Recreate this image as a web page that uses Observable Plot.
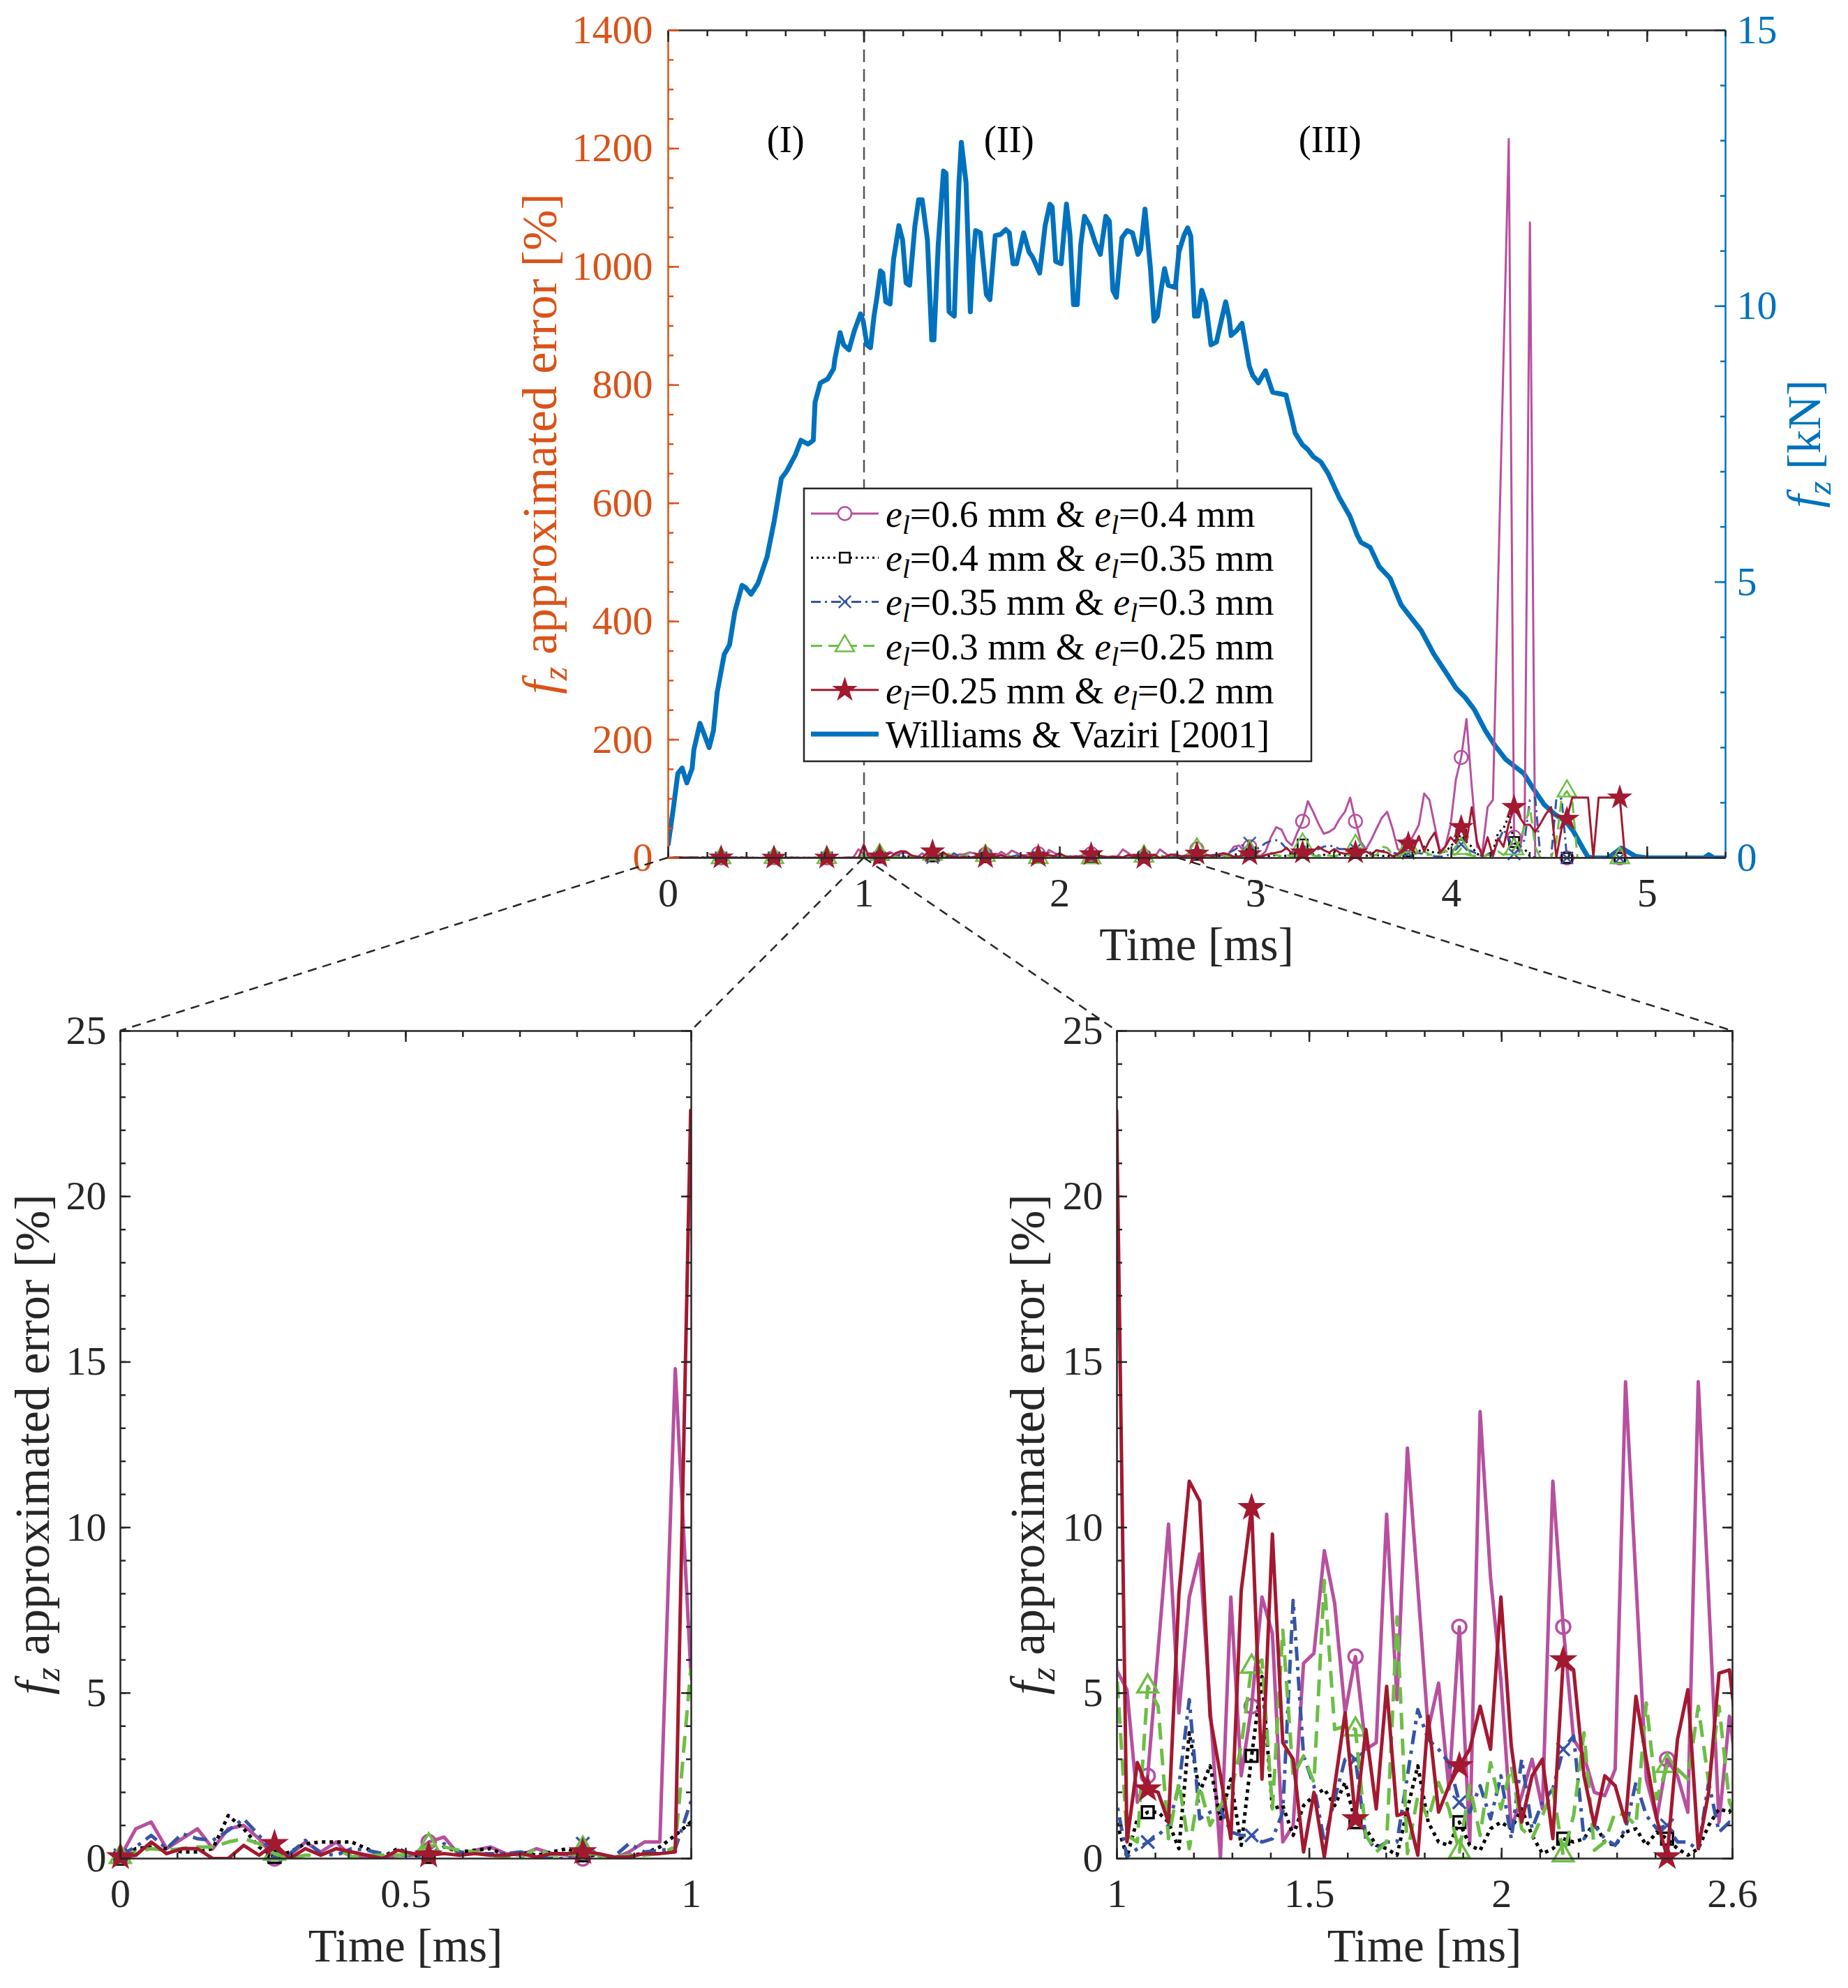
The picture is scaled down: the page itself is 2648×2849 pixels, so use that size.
<!DOCTYPE html>
<html>
<head>
<meta charset="utf-8">
<title>fz approximated error</title>
<script src="https://cdn.jsdelivr.net/npm/d3@7"></script>
<script src="https://cdn.jsdelivr.net/npm/@observablehq/plot@0.6"></script>
<style>
  html, body { margin: 0; padding: 0; background: #fff; }
  #page { position: relative; width: 2648px; height: 2849px; background: #fff; overflow: hidden; }
  #page > svg { position: absolute; left: 0; top: 0; }
  #page text { white-space: pre; }
</style>
</head>
<body>
<div id="page"></div>
<script>
// error curves are sampled every dt ms; a marker sits on every 10th sample
const dt = 0.027;
const markEvery = 10;
const lastMark = 180;

// e_l=0.6 mm & e_l=0.4 mm  [%]
const errE06 = [
  0.05, 0.9, 1.1, 0.3, 0.6, 0.9, 0.3, 0.9, 1.0, 0.6,
  0, 0.1, 0.5, 0.2, 0.5, 0.05, 0.05, 0, 0.1, 0.1,
  0.5, 0.65, 0.1, 0.25, 0.35, 0.15, 0.1, 0.3, 0.15, 0.1,
  0, 0.15, 0, 0.2, 0.5, 0.5, 14.8, 5.7, 5.1, 1.7,
  2.5, 6.3, 10.1, 4.4, 7.9, 9.2, 4.6, 0, 7.9, 2.5,
  4.6, 7.9, 6.8, 0.5, 1.0, 5.9, 6.2, 9.3, 7.7, 4.4,
  6.1, 3.3, 3.5, 10.4, 4.8, 12.4, 8.2, 3.9, 5.3, 2.1,
  7.0, 0.5, 13.5, 8.5, 5.4, 0.9, 1.9, 3.0, 1.5, 11.4,
  7.0, 3.6, 3.1, 2.0, 1.9, 2.7, 14.4, 8.4, 2.4, 1.2,
  3.0, 2.5, 1.4, 14.4, 7.9, 1.1, 4.3, 2, 5, 11,
  15, 3, 1, 1, 4, 4, 7, 19, 21, 11,
  19, 7, 3, 11, 35, 52, 48, 29, 21, 43,
  62, 96, 78, 58, 41, 44, 50, 66, 78, 102,
  62, 27, 15, 31, 50, 68, 78, 50, 15, 11,
  23, 39, 56, 109, 98, 54, 11, 19, 56, 133,
  170, 235, 121, 19, 11, 86, 98, 471, 843, 1216,
  35, 10, 60, 1075, 0, 0, 0, 0, 0, 0,
  0, 0, 0, 0, 0, 0, 0, 0, 0, 0,
  0, 0, 0, 0, 0, 0, 0, 0, 0, 0,
  0, 0, 0, 0, 0, 0, 0, 0, 0, 0,
  0
];

// e_l=0.4 mm & e_l=0.35 mm  [%]
const errE04 = [
  0, 0.3, 0.35, 0.3, 0.2, 0.2, 0.3, 1.3, 0.9, 0.35,
  0.05, 0.2, 0.45, 0.5, 0.5, 0.5, 0.3, 0.05, 0.3, 0.1,
  0.05, 0.35, 0.2, 0.25, 0.3, 0.1, 0.2, 0.1, 0.2, 0.3,
  0.1, 0.1, 0, 0.1, 0.15, 0.35, 0.7, 1.1, 0.05, 1.2,
  1.4, 1.4, 1.1, 0.3, 3.8, 2.0, 2.8, 1.2, 2.4, 0.4,
  3.1, 5.5, 1.5, 1.6, 0.7, 1.6, 1.9, 2.1, 1.6, 2.3,
  1.1, 0.9, 0.4, 0.3, 0.1, 1.5, 2.8, 1.1, 0.5, 0.4,
  1.1, 0.4, 0.25, 0.9, 1.1, 0.9, 1.5, 0.7, 0.15, 0.3,
  0.6, 0.5, 0.6, 1.1, 0.5, 0.4, 0.8, 0.9, 0.4, 0.8,
  0.6, 0.3, 0.1, 0.3, 1.0, 1.5, 1.4, 2, 3, 4,
  5, 3, 2, 3, 4, 3, 4, 5, 7, 5,
  6, 4, 3, 2, 4, 5, 3, 4, 9, 6,
  23, 13, 6, 4, 5, 8, 11, 6, 4, 5,
  8, 6, 4, 3, 5, 3, 4, 2, 3, 5,
  11, 7, 11, 19, 11, 9, 9, 11, 19, 31,
  39, 27, 19, 7, 3, 5, 11, 43, 50, 70,
  27, 11, 15, 3, 0, 0, 0, 0, 0, 0,
  0, 0, 0, 0, 0, 0, 0, 0, 0, 0,
  0, 0, 0, 0, 0, 0, 0, 0, 0, 0,
  0, 0, 0, 0, 0, 0, 0, 0, 0, 0,
  0
];

// e_l=0.35 mm & e_l=0.3 mm  [%]
const errE035 = [
  0.1, 0.35, 0.7, 0.3, 0.75, 0.6, 0.55, 0.85, 1.2, 0.7,
  0.1, 0.15, 0.55, 0.15, 0.1, 0.3, 0.25, 0.15, 0.1, 0.1,
  0.05, 0.45, 0.2, 0.15, 0.15, 0.15, 0.2, 0.05, 0, 0,
  0.45, 0.1, 0.05, 0.45, 0.2, 0.25, 0.3, 1.7, 0.05, 0.3,
  0.5, 0.7, 1.0, 2.2, 4.8, 1.2, 1.4, 1.5, 0.8, 0.7,
  0.7, 0.5, 0.6, 1.4, 7.8, 3.1, 2.2, 0.5, 1.8, 3.0,
  3.0, 0.6, 0.3, 0.5, 0.5, 2.5, 4.5, 3.6, 3.3, 2.9,
  1.7, 1.4, 2.2, 1.2, 2.5, 0.6, 3.0, 0.9, 1.7, 2.1,
  3.3, 3.7, 0.6, 1.0, 0.6, 0.4, 0.9, 2.3, 1.3, 0.9,
  1.0, 0.5, 0.5, 0.25, 2.3, 0.8, 1.1, 1, 2, 5,
  5, 3, 3, 5, 6, 7, 9, 13, 19, 23,
  25, 13, 19, 25, 29, 30, 25, 15, 11, 9,
  7, 9, 13, 15, 19, 21, 19, 15, 15, 13,
  15, 15, 11, 9, 13, 11, 15, 9, 7, 10,
  8, 9, 8, 7, 5, 3, 2, 3, 7, 19,
  23, 15, 11, 7, 3, 6, 11, 27, 48, 35,
  7, 15, 31, 98, 102, 0, 0, 0, 100, 100,
  0, 0, 0, 0, 0, 0, 0, 0, 0, 0,
  0, 0, 0, 0, 0, 0, 0, 0, 0, 0,
  0, 0, 0, 0, 0, 0, 0, 0, 0, 0,
  0
];

// e_l=0.3 mm & e_l=0.25 mm  [%]
const errE03 = [
  0.05, 0.2, 0.3, 0.25, 0.3, 0.35, 0.35, 0.5, 0.6, 0.45,
  0.15, 0, 0.1, 0.1, 0.3, 0.05, 0.1, 0.1, 0.1, 0.15,
  0.4, 0.35, 0.25, 0.2, 0.1, 0.05, 0.05, 0.3, 0.1, 0.1,
  0.3, 0.1, 0.05, 0.1, 0.1, 0.15, 0.35, 5.7, 0.7, 0.5,
  5.2, 4.6, 0.6, 2.3, 0.3, 2.2, 1.0, 1.6, 2.0, 3.4,
  5.8, 6.0, 1.5, 6.9, 2.5, 3.1, 2.3, 8.4, 3.9, 4.0,
  3.9, 0.7, 0.2, 0.5, 7.3, 0.15, 1.9, 1.2, 2.3, 1.5,
  0.2, 2.2, 0.7, 2.9, 1.5, 2.8, 0.9, 0.6, 1.3, 2.1,
  0.1, 1.3, 3.8, 0.25, 0.5, 1.4, 1.3, 1.0, 4.7, 1.8,
  2.8, 2.7, 2.4, 4.6, 2.3, 4.6, 1.7, 1, 2, 4,
  15, 3, 1, 2, 3, 4, 3, 2, 4, 3,
  11, 3, 2, 4, 9, 5, 3, 5, 3, 4,
  23, 11, 4, 3, 5, 4, 3, 5, 7, 4,
  21, 15, 6, 4, 5, 19, 17, 5, 3, 6,
  19, 8, 5, 11, 6, 4, 7, 13, 5, 6,
  16, 6, 4, 3, 2, 5, 4, 11, 5, 13,
  15, 27, 54, 86, 19, 0, 0, 0, 27, 102,
  113, 98, 0, 0, 0, 0, 0, 0, 0, 0,
  0, 0, 0, 0, 0, 0, 0, 0, 0, 0,
  0, 0, 0, 0, 0, 0, 0, 0, 0, 0,
  0
];

// e_l=0.25 mm & e_l=0.2 mm  [%]
const errE025 = [
  0.05, 0.1, 0.5, 0.15, 0.3, 0.3, 0, 0, 0.4, 0.1,
  0.45, 0, 0.3, 0.1, 0.3, 0.2, 0.1, 0, 0.25, 0.15,
  0.1, 0.15, 0.1, 0.15, 0.1, 0.1, 0.15, 0.05, 0.15, 0.15,
  0.2, 0.15, 0.05, 0.05, 0.15, 0.15, 0.2, 22.6, 0.5, 2.9,
  2.1, 2.0, 1.1, 8.0, 11.4, 10.8, 4.3, 2.5, 0.6, 8.1,
  10.6, 2.4, 9.8, 3.5, 3.0, 0.2, 2.0, 0.05, 2.2, 4.4,
  1.2, 3.9, 1.5, 5.2, 1.3, 1.4, 0.1, 4.3, 1.4, 2.2,
  2.8, 3.3, 4.6, 3.3, 7.9, 3.4, 1.1, 2.5, 3.0, 0.6,
  6.0, 5.7, 2.5, 1.0, 2.5, 2.2, 1.1, 4.9, 3.0, 1.2,
  0.05, 3.6, 5.1, 0.3, 2.0, 5.6, 5.7, 3, 3, 4,
  7, 3, 5, 3, 6, 8, 6, 2, 3, 5,
  6, 3, 2, 5, 7, 9, 11, 17, 7, 8,
  9, 5, 11, 19, 13, 9, 15, 9, 7, 8,
  9, 7, 11, 6, 13, 11, 9, 3, 6, 15,
  24, 15, 37, 11, 30, 43, 9, 19, 35, 25,
  52, 27, 86, 27, 3, 35, 3, 33, 19, 58,
  86, 70, 56, 56, 44, 58, 74, 86, 1, 50,
  66, 102, 102, 102, 102, 1, 102, 102, 102, 102,
  102, 0, 0, 0, 0, 0, 0, 0, 0, 0,
  0, 0, 0, 0, 0, 0, 0, 0, 0, 0,
  0
];

// Williams & Vaziri [2001]: time [ms] and force fz [kN]
const wvTime = [
  0, 0.027, 0.049, 0.071, 0.095, 0.122, 0.131, 0.162, 0.186, 0.209,
  0.231, 0.25, 0.286, 0.313, 0.34, 0.377, 0.395, 0.423, 0.459, 0.505,
  0.541, 0.578, 0.605, 0.65, 0.678, 0.714, 0.741, 0.75, 0.777, 0.814,
  0.845, 0.851, 0.878, 0.896, 0.923, 0.951, 0.982, 0.996, 1.015, 1.033,
  1.051, 1.066, 1.084, 1.096, 1.111, 1.133, 1.151, 1.178, 1.197, 1.215,
  1.233, 1.26, 1.279, 1.297, 1.324, 1.346, 1.357, 1.379, 1.406, 1.419,
  1.434, 1.461, 1.485, 1.497, 1.521, 1.543, 1.557, 1.57, 1.594, 1.625,
  1.643, 1.67, 1.697, 1.724, 1.742, 1.761, 1.779, 1.815, 1.843, 1.861,
  1.897, 1.925, 1.949, 1.961, 1.979, 2.007, 2.034, 2.052, 2.07, 2.089,
  2.107, 2.126, 2.153, 2.18, 2.207, 2.235, 2.253, 2.271, 2.289, 2.317,
  2.344, 2.371, 2.399, 2.413, 2.435, 2.463, 2.481, 2.499, 2.517, 2.535,
  2.554, 2.59, 2.608, 2.635, 2.653, 2.669, 2.688, 2.706, 2.725, 2.745,
  2.772, 2.8, 2.819, 2.847, 2.865, 2.875, 2.903, 2.93, 2.949, 2.968,
  2.986, 3.014, 3.05, 3.087, 3.115, 3.155, 3.183, 3.202, 3.239, 3.267,
  3.295, 3.333, 3.37, 3.426, 3.482, 3.519, 3.538, 3.585, 3.631, 3.687,
  3.743, 3.78, 3.846, 3.911, 3.967, 4.023, 4.07, 4.117, 4.173, 4.22,
  4.276, 4.323, 4.37, 4.416, 4.473, 4.529, 4.585, 4.622, 4.669, 4.697,
  4.72, 4.8, 4.868, 4.94, 5.0, 5.29, 5.314, 5.34, 5.4
];
const wvForce = [
  0.25, 0.92, 1.53, 1.63, 1.36, 1.62, 1.96, 2.44, 2.22, 2.0,
  2.31, 3.0, 3.69, 3.86, 4.46, 4.94, 4.9, 4.78, 4.98, 5.46,
  6.1, 6.88, 7.01, 7.31, 7.57, 7.5, 7.57, 8.26, 8.61, 8.68,
  8.87, 9.04, 9.52, 9.3, 9.21, 9.56, 9.86, 9.73, 9.3, 9.25,
  9.82, 10.16, 10.64, 10.6, 10.08, 10.04, 10.85, 11.46, 11.2, 10.42,
  10.38, 11.46, 11.93, 11.93, 11.2, 9.39, 9.39, 11.11, 12.45, 12.41,
  9.9, 9.82, 12.24, 12.97, 12.24, 9.9, 10.85, 11.37, 11.33, 10.21,
  10.12, 11.28, 11.3, 11.39, 11.33, 10.77, 10.77, 11.33, 10.98, 10.89,
  10.6, 11.46, 11.85, 11.8, 10.81, 10.77, 11.85, 11.29, 10.03, 10.03,
  11.11, 11.63, 11.46, 11.16, 10.94, 11.63, 11.54, 10.29, 10.16, 11.24,
  11.37, 11.33, 10.94, 11.03, 11.76, 10.68, 9.73, 9.82, 10.29, 10.68,
  10.38, 10.34, 10.98, 11.29, 11.42, 11.27, 9.82, 9.82, 10.29, 10.08,
  9.3, 9.35, 9.65, 10.08, 9.78, 9.47, 9.56, 9.69, 9.3, 8.91,
  8.74, 8.61, 8.83, 8.44, 8.42, 8.39, 7.99, 7.7, 7.49, 7.4,
  7.27, 7.18, 6.97, 6.54, 6.19, 5.85, 5.72, 5.63, 5.28, 5.07,
  4.59, 4.42, 4.12, 3.69, 3.39, 3.08, 2.91, 2.69, 2.31, 2.05,
  1.79, 1.66, 1.53, 1.27, 0.97, 0.79, 0.66, 0.49, 0.19, 0.02,
  0, 0, 0.18, 0.03, 0, 0, 0.06, 0, 0
];

// phases of the impact, written above the force curve
const regionLabels = ["(I)", "(II)", "(III)"];
const regionTimes = [0.6, 1.74, 3.38];
const regionLevel = 1215;

// x extents of the main plot and of the two zoomed panels [ms]
const topDomain = [0, 5.4];
const leftDomain = [0, 1];
const rightDomain = [1, 2.6];

// tick values
const topXMajor = [0, 1, 2, 3, 4, 5];
const topXMinor = d3.range(0, 28).map((k) => k / 5);
const pctMajor = d3.range(0, 1401, 200);
const pctMinor = d3.range(0, 1401, 50);
const kNMajor = [0, 5, 10, 15];
const kNMinor = d3.range(0, 16);
const zoomYMajor = [0, 5, 10, 15, 20, 25];
const zoomYMinor = d3.range(0, 26);
const leftXMajor = [0, 0.5, 1];
const leftXMinor = d3.range(0, 11).map((k) => k / 10);
const rightXMajor = [1, 1.5, 2, 2.6];
const rightXMinor = d3.range(10, 27).map((k) => k / 10);

// ---- styling -------------------------------------------------------------
const FONT = '"Liberation Serif", "DejaVu Serif", serif';
const INK = "#262626";
const ORANGE = "#D95319";
const BLUE = "#0072BD";
const PAGE_W = 2648, PAGE_H = 2849;

const series = [
  {pair: ["0.6", "0.4"], values: errE06, color: "#B7509E", dash: "solid", symbol: "circle", filled: false},
  {pair: ["0.4", "0.35"], values: errE04, color: "#000000", dash: "dot", symbol: "square", filled: false},
  {pair: ["0.35", "0.3"], values: errE035, color: "#3755A5", dash: "dashdot", symbol: "times", filled: false},
  {pair: ["0.3", "0.25"], values: errE03, color: "#6CBE45", dash: "dash", symbol: "triangle", filled: false},
  {pair: ["0.25", "0.2"], values: errE025, color: "#A21930", dash: "solid", symbol: "star", filled: true}
];

const thinStyle = {
  lw: 3, mw: 2.5, firstMark: markEvery,
  dash: {solid: null, dot: "3,5", dashdot: "14,6,3,6", dash: "16,9"},
  r: {circle: 9.5, square: 8, times: 8, triangle: 10, star: 9}
};
const thickStyle = {
  lw: 5, mw: 3.5, firstMark: 0,
  dash: {solid: null, dot: "5,6", dashdot: "20,9,5,9", dash: "24,13"},
  r: {circle: 10, square: 9.5, times: 8.5, triangle: 11, star: 9.5}
};

// plot frames on the page
const topBox = {x0: 957, x1: 2472, y0: 43, y1: 1229};
const leftBox = {x0: 172, x1: 990, y0: 1477, y1: 2663};
const rightBox = {x0: 1600, x1: 2482, y0: 1477, y1: 2663};

const baseStyle = {background: "transparent", overflow: "visible", fontFamily: FONT, fontSize: "58px", color: INK};

function frameMargins(box) {
  return {
    width: PAGE_W, height: PAGE_H,
    marginLeft: box.x0, marginRight: PAGE_W - box.x1,
    marginTop: box.y0, marginBottom: PAGE_H - box.y1
  };
}

function errorMarks(st, xDomain) {
  return series.flatMap((s) => {
    const rows = s.values.map((v, i) => ({i, t: i * dt, v}));
    const marked = rows.filter((d) => d.i % markEvery === 0 && d.i >= st.firstMark && d.i <= lastMark &&
      d.t >= xDomain[0] - 1e-6 && d.t <= xDomain[1] + 1e-6);
    const dash = st.dash[s.dash];
    return [
      Plot.line(rows, {
        x: "t", y: "v", stroke: s.color, strokeWidth: st.lw, clip: true,
        strokeLinejoin: "round", strokeLinecap: "butt",
        ...(dash ? {strokeDasharray: dash} : {})
      }),
      Plot.dot(marked, {
        x: "t", y: "v", symbol: s.symbol, r: st.r[s.symbol],
        stroke: s.color, strokeWidth: st.mw, fill: s.filled ? s.color : "none"
      })
    ];
  });
}

// inward tick marks (no text)
function tickMarks(axis, anchor, values, len, color) {
  const make = axis === "x" ? Plot.axisX : Plot.axisY;
  return make(values, {anchor, tickSize: -len, stroke: color, strokeWidth: 2.5, fill: "none", label: null});
}
// tick labels only
function tickLabels(axis, anchor, values, pad, color) {
  const make = axis === "x" ? Plot.axisX : Plot.axisY;
  return make(values, {anchor, tickSize: 0, tickPadding: pad, fill: color, fontSize: 58,
    tickFormat: (d) => String(d), label: null});
}

// ---- main plot: force curve (lower layer, right axis) ---------------------
const forceTop = Plot.plot({
  ...frameMargins(topBox),
  style: baseStyle,
  x: {domain: topDomain, axis: null},
  y: {domain: [0, 15]},
  marks: [
    Plot.ruleX([rightDomain[0], rightDomain[1]], {stroke: "#555", strokeWidth: 2.5, strokeDasharray: "18,10"}),
    Plot.line(wvTime.map((t, k) => ({t, f: wvForce[k]})), {
      x: "t", y: "f", stroke: BLUE, strokeWidth: 7, strokeLinejoin: "round", strokeLinecap: "round", clip: true
    }),
    Plot.ruleX([topDomain[1]], {stroke: BLUE, strokeWidth: 2.5}),
    tickMarks("y", "right", kNMinor, 8, BLUE),
    tickMarks("y", "right", kNMajor, 16, BLUE),
    tickLabels("y", "right", kNMajor, 16, BLUE)
  ]
});

// ---- main plot: approximated errors (upper layer, left axis) --------------
const errTop = Plot.plot({
  ...frameMargins(topBox),
  style: baseStyle,
  x: {domain: topDomain},
  y: {domain: [0, 1400]},
  marks: [
    ...errorMarks(thinStyle, topDomain),
    Plot.text(regionLabels.map((label, k) => ({label, t: regionTimes[k], v: regionLevel})), {
      x: "t", y: "v", text: "label", fontSize: 54, fill: "#000"
    }),
    Plot.ruleY([0, 1400], {stroke: INK, strokeWidth: 2.5}),
    Plot.ruleX([topDomain[0]], {stroke: ORANGE, strokeWidth: 2.5}),
    tickMarks("x", "bottom", topXMinor, 8, INK),
    tickMarks("x", "bottom", topXMajor, 16, INK),
    tickMarks("x", "top", topXMinor, 8, INK),
    tickMarks("x", "top", topXMajor, 16, INK),
    tickMarks("y", "left", pctMinor, 8, ORANGE),
    tickMarks("y", "left", pctMajor, 16, ORANGE),
    tickLabels("x", "bottom", topXMajor, 28, INK),
    tickLabels("y", "left", pctMajor, 22, ORANGE)
  ]
});

// ---- zoomed panels ---------------------------------------------------------
function zoomPanel(box, xDomain, xMinor, xMajor) {
  const ticks = [];
  for (const a of ["bottom", "top"]) ticks.push(tickMarks("x", a, xMinor, 8, INK), tickMarks("x", a, xMajor, 15, INK));
  for (const a of ["left", "right"]) ticks.push(tickMarks("y", a, zoomYMinor, 8, INK), tickMarks("y", a, zoomYMajor, 15, INK));
  return Plot.plot({
    ...frameMargins(box),
    style: baseStyle,
    x: {domain: xDomain},
    y: {domain: [0, 25]},
    marks: [
      ...errorMarks(thickStyle, xDomain),
      Plot.frame({stroke: INK, strokeWidth: 2.5}),
      ...ticks,
      tickLabels("x", "bottom", xMajor, 28, INK),
      tickLabels("y", "left", zoomYMajor, 20, INK)
    ]
  });
}
const leftPanel = zoomPanel(leftBox, leftDomain, leftXMinor, leftXMajor);
const rightPanel = zoomPanel(rightBox, rightDomain, rightXMinor, rightXMajor);

// ---- overlay: titles, zoom connectors, legend -------------------------------
const overlay = d3.create("svg")
  .attr("width", PAGE_W).attr("height", PAGE_H)
  .attr("font-family", FONT);

function richText(g, x, y, parts, {size, color, rotate = 0, anchor = "middle", subShift = 0.22}) {
  const t = g.append("text")
    .attr("transform", `translate(${x},${y}) rotate(${rotate})`)
    .attr("text-anchor", anchor).attr("font-size", size).attr("fill", color).attr("dy", "0.35em");
  let shifted = false;
  for (const p of parts) {
    const s = t.append("tspan").text(p.text);
    if (p.italic) s.attr("font-style", "italic");
    if (p.sub) { s.attr("font-size", size * 0.72).attr("dy", size * subShift); shifted = true; }
    else if (shifted) { s.attr("dy", -size * subShift); shifted = false; }
  }
  return t;
}
const fzError = [{text: "f", italic: true}, {text: "z", italic: true, sub: true}, {text: " approximated error [%]"}];
const fzForce = [{text: "f", italic: true}, {text: "z", italic: true, sub: true}, {text: " [kN]"}];
const timeTitle = [{text: "Time [ms]"}];

const titles = overlay.append("g");
richText(titles, 772, (topBox.y0 + topBox.y1) / 2, fzError, {size: 70, color: ORANGE, rotate: -90});
richText(titles, 2584, (topBox.y0 + topBox.y1) / 2, fzForce, {size: 68, color: BLUE, rotate: -90});
richText(titles, (topBox.x0 + topBox.x1) / 2, 1353, timeTitle, {size: 67, color: INK});
richText(titles, 45, (leftBox.y0 + leftBox.y1) / 2, fzError, {size: 70, color: INK, rotate: -90});
richText(titles, (leftBox.x0 + leftBox.x1) / 2, 2788, timeTitle, {size: 67, color: INK});
richText(titles, 1471, (rightBox.y0 + rightBox.y1) / 2, fzError, {size: 70, color: INK, rotate: -90});
richText(titles, (rightBox.x0 + rightBox.x1) / 2, 2788, timeTitle, {size: 67, color: INK});

// dashed connectors from the main time axis to the zoomed panels
const tx = errTop.scale("x"), ty = errTop.scale("y");
const lx = leftPanel.scale("x"), ly = leftPanel.scale("y");
const rx = rightPanel.scale("x"), ry = rightPanel.scale("y");
const links = [
  [tx.apply(leftDomain[0]), ty.apply(0), lx.apply(leftDomain[0]), ly.apply(25)],
  [tx.apply(leftDomain[1]), ty.apply(0), lx.apply(leftDomain[1]), ly.apply(25)],
  [tx.apply(rightDomain[0]), ty.apply(0), rx.apply(rightDomain[0]), ry.apply(25)],
  [tx.apply(rightDomain[1]), ty.apply(0), rx.apply(rightDomain[1]), ry.apply(25)]
];
overlay.append("g").selectAll("line").data(links).join("line")
  .attr("x1", (d) => d[0]).attr("y1", (d) => d[1])
  .attr("x2", (d) => d[2]).attr("y2", (d) => d[3])
  .attr("stroke", INK).attr("stroke-width", 2.5).attr("stroke-dasharray", "13,9");

// legend
const legendBox = {x0: 1152, y0: 700, x1: 1879, y1: 1091};
const rowH = 63.2, firstRow = 36;
const symbolTypes = {circle: d3.symbolCircle, square: d3.symbolSquare, times: d3.symbolTimes,
  triangle: d3.symbolTriangle, star: d3.symbolStar};
const legendItems = [
  ...series.map((s) => ({
    color: s.color, lw: thinStyle.lw, dash: thinStyle.dash[s.dash], symbol: s.symbol, filled: s.filled,
    parts: [
      {text: "e", italic: true}, {text: "l", italic: true, sub: true}, {text: `=${s.pair[0]} mm & `},
      {text: "e", italic: true}, {text: "l", italic: true, sub: true}, {text: `=${s.pair[1]} mm`}
    ]
  })),
  {color: BLUE, lw: 7, dash: null, symbol: null, parts: [{text: "Williams & Vaziri [2001]"}]}
];
const lg = overlay.append("g");
lg.append("rect")
  .attr("x", legendBox.x0).attr("y", legendBox.y0)
  .attr("width", legendBox.x1 - legendBox.x0).attr("height", legendBox.y1 - legendBox.y0)
  .attr("fill", "#fff").attr("stroke", INK).attr("stroke-width", 2.5);
legendItems.forEach((it, k) => {
  const cy = legendBox.y0 + firstRow + k * rowH;
  const lx0 = legendBox.x0 + 10, lx1 = legendBox.x0 + 107;
  const ln = lg.append("line")
    .attr("x1", lx0).attr("x2", lx1).attr("y1", cy).attr("y2", cy)
    .attr("stroke", it.color).attr("stroke-width", it.lw);
  if (it.dash) ln.attr("stroke-dasharray", it.dash);
  if (it.symbol) {
    const r = thinStyle.r[it.symbol];
    lg.append("path")
      .attr("d", d3.symbol(symbolTypes[it.symbol], Math.PI * r * r)())
      .attr("transform", `translate(${(lx0 + lx1) / 2},${cy})`)
      .attr("fill", it.filled ? it.color : "#fff")
      .attr("stroke", it.color).attr("stroke-width", thinStyle.mw);
  }
  richText(lg, legendBox.x0 + 117, cy, it.parts, {size: 54, color: "#000", anchor: "start", subShift: 0.18});
});

const page = document.getElementById("page");
page.append(forceTop, errTop, leftPanel, rightPanel, overlay.node());
</script>
</body>
</html>
